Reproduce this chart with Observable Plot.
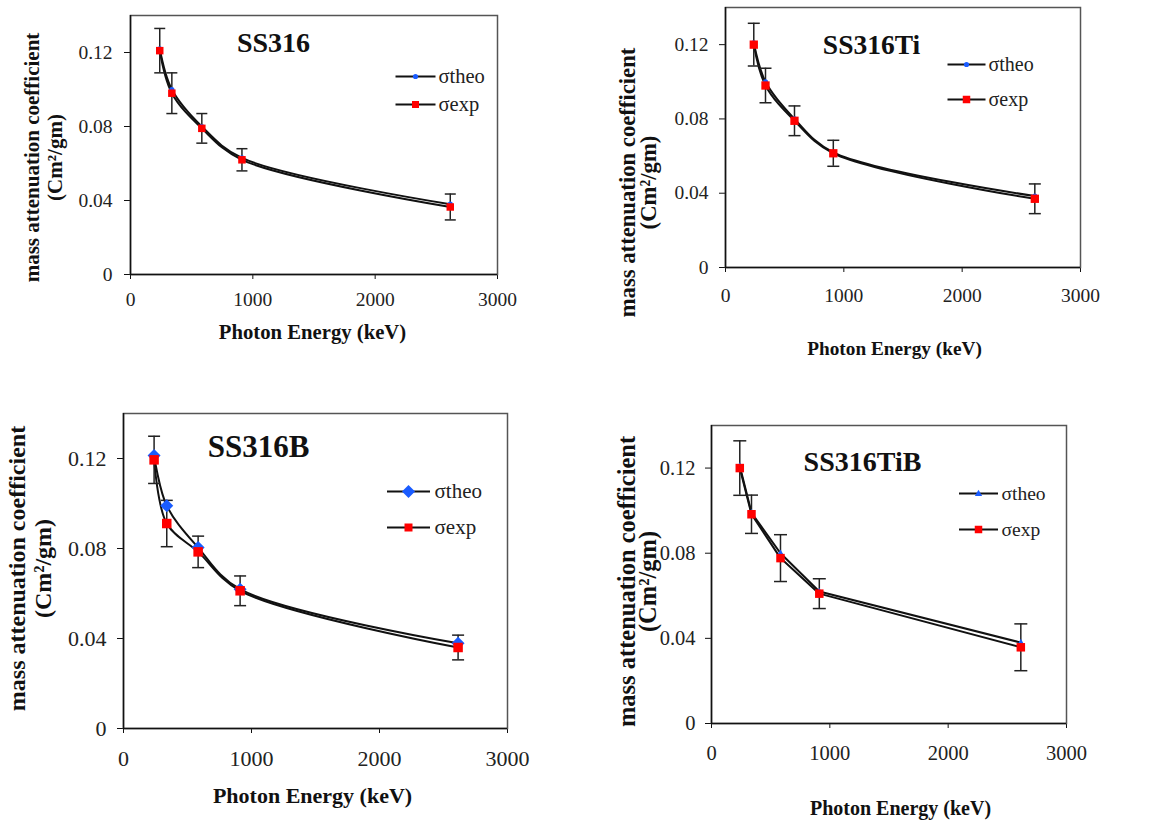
<!DOCTYPE html>
<html><head><meta charset="utf-8">
<script src="https://cdn.jsdelivr.net/npm/d3@7"></script>
<script src="https://cdn.jsdelivr.net/npm/@observablehq/plot@0.6"></script>
<style>
body{margin:0;background:#fff;}
#root{position:relative;width:1164px;height:820px;overflow:hidden;background:#fff;}
#root > div{position:absolute;}
#root svg text{font-family:'Liberation Serif','Times New Roman',serif;}
</style></head><body><div id="root"></div>
<script>
// ---- data ----
const energy = [239, 338, 583, 911, 2614];
const xTicks = [0, 1000, 2000, 3000];
const yTicks = [0, 0.04, 0.08, 0.12];
const seriesNames = ["σtheo", "σexp"];
const titles = ["SS316", "SS316Ti", "SS316B", "SS316TiB"];
const xTitle = "Photon Energy (keV)";
const yTitle1 = "mass attenuation coefficient";
const yTitle2 = "(Cm²/gm)";

const theoSS316 = [0.122, 0.100, 0.080, 0.063, 0.038];
const expSS316  = [0.121, 0.098, 0.079, 0.062, 0.0365];
const errSS316  = [0.012, 0.011, 0.008, 0.006, 0.007];

const theoSS316Ti = [0.121, 0.100, 0.080, 0.062, 0.0385];
const expSS316Ti  = [0.120, 0.098, 0.079, 0.0615, 0.037];
const errSS316Ti  = [0.0115, 0.0093, 0.008, 0.007, 0.008];

const theoSS316B = [0.1213, 0.099, 0.0804, 0.0619, 0.0379];
const expSS316B  = [0.1194, 0.0911, 0.0785, 0.0612, 0.036];
const errSS316B  = [0.0105, 0.0103, 0.007, 0.0066, 0.0055];

const theoSS316TiB = [0.121, 0.099, 0.080, 0.062, 0.0380];
const expSS316TiB  = [0.120, 0.0983, 0.0777, 0.061, 0.0358];
const errSS316TiB  = [0.0128, 0.009, 0.011, 0.007, 0.011];

// ---- symbols ----
const hline = hw => ({draw(c){c.moveTo(-hw,0);c.lineTo(hw,0);}});
const square = s => ({draw(c){c.rect(-s/2,-s/2,s,s);}});
const diamond = h => ({draw(c){c.moveTo(0,-h);c.lineTo(h,0);c.lineTo(0,h);c.lineTo(-h,0);c.closePath();}});
const triangle = h => ({draw(c){c.moveTo(0,-h);c.lineTo(h*0.95,h*0.65);c.lineTo(-h*0.95,h*0.65);c.closePath();}});
const circle = r => ({draw(c){c.moveTo(r,0);c.arc(0,0,r,0,2*Math.PI);}});

const BLUE = "#1a5cff", RED = "#ff0000", INK = "#111";
const SERIF = "'Liberation Serif', 'Times New Roman', serif";

const series = [
  [theoSS316, expSS316, errSS316],
  [theoSS316Ti, expSS316Ti, errSS316Ti],
  [theoSS316B, expSS316B, errSS316B],
  [theoSS316TiB, expSS316TiB, errSS316TiB]
];

const layout = [
  {left:0, top:0, width:560, height:360, m:[15,63,86,130], tick:19.5, xPad:12.6, yPad:12,
   title:{dx:143,dy:28,fs:28}, leg:{dx:285,dy:[61,89],tdx:308,hw:20,fs:20.5},
   ylab:{dx:[-98,-75],dy:12.5,fs:21}, xlab:{dx:-1.5,dy:58,fs:20.7},
   theoSym:circle(2.6), expSym:square(7.5), legTheo:circle(2.6), legExp:square(7), cap:5.5, curve:"catmull-rom"},
  {left:580, top:0, width:584, height:370, m:[7,84,103,145], tick:19.5, xPad:15.6, yPad:11,
   title:{dx:146,dy:38,fs:27.5}, leg:{dx:241,dy:[57,92],tdx:263,hw:19,fs:20},
   ylab:{dx:[-98,-77],dy:45,fs:22.7}, xlab:{dx:-8.5,dy:81,fs:19.3},
   theoSym:circle(2.6), expSym:square(8.3), legTheo:circle(2.6), legExp:square(7.5), cap:6, curve:"catmull-rom"},
  {left:0, top:400, width:560, height:420, m:[13,53,92,123], tick:22, xPad:16.6, yPad:11,
   title:{dx:135,dy:34,fs:31}, leg:{dx:285,dy:[78,114],tdx:311,hw:21.5,fs:21},
   ylab:{dx:[-106,-80],dy:-2.5,fs:24}, xlab:{dx:-3,dy:67,fs:22},
   theoSym:diamond(6.5), expSym:square(9.5), legTheo:diamond(6.5), legExp:square(8), cap:6, curve:"catmull-rom"},
  {left:580, top:400, width:584, height:420, m:[25,98,97,131], tick:20.5, xPad:17, yPad:10,
   title:{dx:151,dy:37,fs:28}, leg:{dx:267,dy:[68,104],tdx:290,hw:19.5,fs:19.5},
   ylab:{dx:[-84,-63],dy:7,fs:24.5}, xlab:{dx:11.5,dy:85,fs:20},
   theoSym:triangle(3.8), expSym:square(8.5), legTheo:triangle(3.8), legExp:square(7.5), cap:6.5, curve:"linear"}
];

const root = document.getElementById("root");
const fmt = d => String(d);

layout.forEach((L, k) => {
  const [theo, exp, err] = series[k];
  const table = energy.map((e, i) => ({energy: e, theo: theo[i], exp: exp[i], err: err[i]}));
  const chart = Plot.plot({
    width: L.width, height: L.height,
    marginTop: L.m[0], marginRight: L.m[1], marginBottom: L.m[2], marginLeft: L.m[3],
    style: {background: "white", overflow: "visible"},
    x: {domain: [0, 3000]},
    y: {domain: [0, 0.14]},
    marks: [
      Plot.axisX({ticks: xTicks, tickFormat: fmt, tickSize: 5, tickPadding: L.xPad, label: null,
        fontSize: L.tick, fontFamily: SERIF, fill: "#222", stroke: "#111"}),
      Plot.axisY({ticks: yTicks, tickFormat: fmt, tickSize: 6, tickPadding: L.yPad, label: null,
        fontSize: L.tick, fontFamily: SERIF, fill: "#222", stroke: "#111"}),
      Plot.frame({stroke: "#555", strokeWidth: 1.5}),
      Plot.ruleY([0], {stroke: "#111", strokeWidth: 1.5}),
      Plot.ruleX([0], {stroke: "#111", strokeWidth: 1.5}),
      Plot.line(table, {x: "energy", y: "theo", curve: L.curve, stroke: INK, strokeWidth: 2}),
      Plot.line(table, {x: "energy", y: "exp", curve: L.curve, stroke: INK, strokeWidth: 2}),
      Plot.ruleX(table, {x: "energy", y1: d => d.exp - d.err, y2: d => d.exp + d.err, stroke: "#222", strokeWidth: 1.5}),
      Plot.dot(table, {x: "energy", y: d => d.exp + d.err, symbol: hline(L.cap), stroke: "#222", strokeWidth: 1.5, fill: "none"}),
      Plot.dot(table, {x: "energy", y: d => d.exp - d.err, symbol: hline(L.cap), stroke: "#222", strokeWidth: 1.5, fill: "none"}),
      Plot.dot(table, {x: "energy", y: "theo", symbol: L.theoSym, fill: BLUE, stroke: "none"}),
      Plot.dot(table, {x: "energy", y: "exp", symbol: L.expSym, fill: RED, stroke: "none"}),
      // panel title
      Plot.text([titles[k]], {frameAnchor: "top-left", dx: L.title.dx, dy: L.title.dy, textAnchor: "middle", lineAnchor: "middle",
        fontSize: L.title.fs, fontWeight: "bold", fontFamily: SERIF, fill: "#111"}),
      // legend
      Plot.dot([seriesNames[0]], {frameAnchor: "top-left", dx: L.leg.dx, dy: L.leg.dy[0], symbol: hline(L.leg.hw), stroke: INK, strokeWidth: 2, fill: "none"}),
      Plot.dot([seriesNames[0]], {frameAnchor: "top-left", dx: L.leg.dx, dy: L.leg.dy[0], symbol: L.legTheo, fill: BLUE, stroke: "none"}),
      Plot.dot([seriesNames[1]], {frameAnchor: "top-left", dx: L.leg.dx, dy: L.leg.dy[1], symbol: hline(L.leg.hw), stroke: INK, strokeWidth: 2, fill: "none"}),
      Plot.dot([seriesNames[1]], {frameAnchor: "top-left", dx: L.leg.dx, dy: L.leg.dy[1], symbol: L.legExp, fill: RED, stroke: "none"}),
      Plot.text([seriesNames[0]], {frameAnchor: "top-left", dx: L.leg.tdx, dy: L.leg.dy[0], textAnchor: "start", lineAnchor: "middle",
        fontSize: L.leg.fs, fontFamily: SERIF, fill: "#222"}),
      Plot.text([seriesNames[1]], {frameAnchor: "top-left", dx: L.leg.tdx, dy: L.leg.dy[1], textAnchor: "start", lineAnchor: "middle",
        fontSize: L.leg.fs, fontFamily: SERIF, fill: "#222"}),
      // axis titles
      Plot.text([yTitle1], {frameAnchor: "left", dx: L.ylab.dx[0], dy: L.ylab.dy, rotate: -90, textAnchor: "middle", lineAnchor: "middle",
        fontSize: L.ylab.fs, fontWeight: "bold", fontFamily: SERIF, fill: "#111"}),
      Plot.text([yTitle2], {frameAnchor: "left", dx: L.ylab.dx[1], dy: L.ylab.dy, rotate: -90, textAnchor: "middle", lineAnchor: "middle",
        fontSize: L.ylab.fs, fontWeight: "bold", fontFamily: SERIF, fill: "#111"}),
      Plot.text([xTitle], {frameAnchor: "bottom", dx: L.xlab.dx, dy: L.xlab.dy, textAnchor: "middle", lineAnchor: "middle",
        fontSize: L.xlab.fs, fontWeight: "bold", fontFamily: SERIF, fill: "#111"})
    ]
  });
  const wrap = document.createElement("div");
  wrap.style.left = L.left + "px";
  wrap.style.top = L.top + "px";
  wrap.appendChild(chart);
  root.appendChild(wrap);
});
</script>
</body></html>
